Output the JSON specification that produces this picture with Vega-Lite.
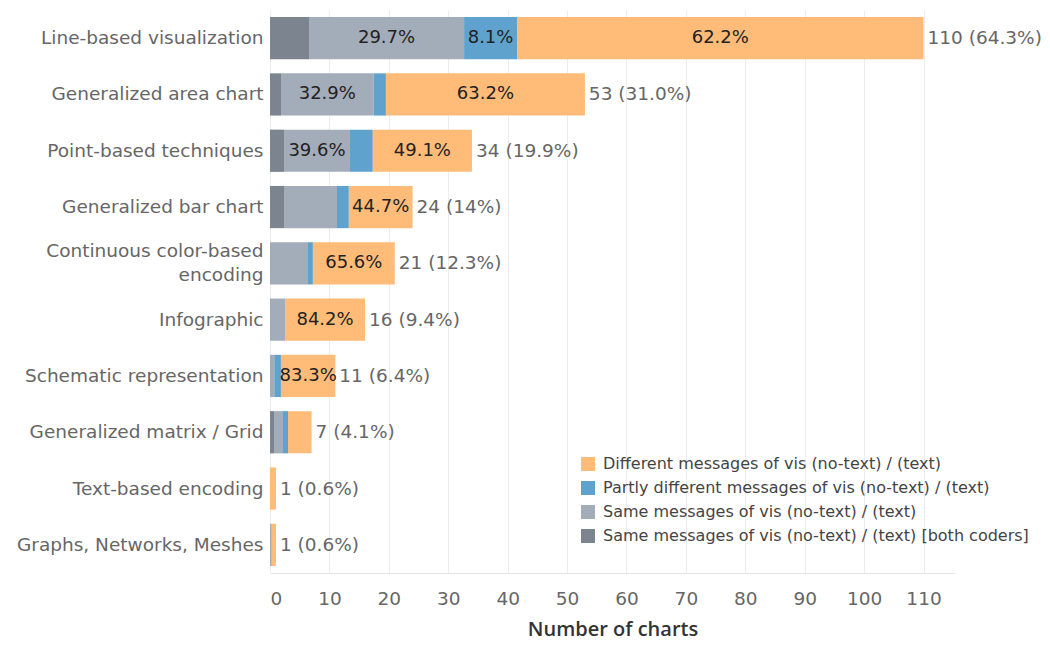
{
  "$schema": "https://vega.github.io/schema/vega-lite/v6.json",
  "autosize": {"type": "none"},
  "width": 685,
  "height": 563,
  "padding": {"left": 270, "top": 10, "right": 95, "bottom": 79},
  "background": "white",
  "config": {
    "font": "DejaVu Sans",
    "view": {"stroke": null},
    "axis": {"labelFont": "DejaVu Sans", "titleFont": "Open Sans"},
    "legend": {"labelFont": "DejaVu Sans"}
  },
  "datasets": {
    "segments": [
      {"category": "Line-based visualization", "type": "Same messages of vis (no-text) / (text) [both coders]", "ord": 1, "value": 6.57, "label": ""},
      {"category": "Line-based visualization", "type": "Same messages of vis (no-text) / (text)", "ord": 2, "value": 26.1, "label": "29.7%"},
      {"category": "Line-based visualization", "type": "Partly different messages of vis (no-text) / (text)", "ord": 3, "value": 8.91, "label": "8.1%"},
      {"category": "Line-based visualization", "type": "Different messages of vis (no-text) / (text)", "ord": 4, "value": 68.42, "label": "62.2%"},
      {"category": "Generalized area chart", "type": "Same messages of vis (no-text) / (text) [both coders]", "ord": 1, "value": 1.85, "label": ""},
      {"category": "Generalized area chart", "type": "Same messages of vis (no-text) / (text)", "ord": 2, "value": 15.59, "label": "32.9%"},
      {"category": "Generalized area chart", "type": "Partly different messages of vis (no-text) / (text)", "ord": 3, "value": 2.07, "label": ""},
      {"category": "Generalized area chart", "type": "Different messages of vis (no-text) / (text)", "ord": 4, "value": 33.5, "label": "63.2%"},
      {"category": "Point-based techniques", "type": "Same messages of vis (no-text) / (text) [both coders]", "ord": 1, "value": 2.36, "label": ""},
      {"category": "Point-based techniques", "type": "Same messages of vis (no-text) / (text)", "ord": 2, "value": 11.1, "label": "39.6%"},
      {"category": "Point-based techniques", "type": "Partly different messages of vis (no-text) / (text)", "ord": 3, "value": 3.84, "label": ""},
      {"category": "Point-based techniques", "type": "Different messages of vis (no-text) / (text)", "ord": 4, "value": 16.69, "label": "49.1%"},
      {"category": "Generalized bar chart", "type": "Same messages of vis (no-text) / (text) [both coders]", "ord": 1, "value": 2.36, "label": ""},
      {"category": "Generalized bar chart", "type": "Same messages of vis (no-text) / (text)", "ord": 2, "value": 8.92, "label": ""},
      {"category": "Generalized bar chart", "type": "Partly different messages of vis (no-text) / (text)", "ord": 3, "value": 1.99, "label": ""},
      {"category": "Generalized bar chart", "type": "Different messages of vis (no-text) / (text)", "ord": 4, "value": 10.73, "label": "44.7%"},
      {"category": "Continuous color-based encoding", "type": "Same messages of vis (no-text) / (text)", "ord": 2, "value": 6.4, "label": ""},
      {"category": "Continuous color-based encoding", "type": "Partly different messages of vis (no-text) / (text)", "ord": 3, "value": 0.82, "label": ""},
      {"category": "Continuous color-based encoding", "type": "Different messages of vis (no-text) / (text)", "ord": 4, "value": 13.78, "label": "65.6%"},
      {"category": "Infographic", "type": "Same messages of vis (no-text) / (text)", "ord": 2, "value": 2.53, "label": ""},
      {"category": "Infographic", "type": "Different messages of vis (no-text) / (text)", "ord": 4, "value": 13.47, "label": "84.2%"},
      {"category": "Schematic representation", "type": "Same messages of vis (no-text) / (text)", "ord": 2, "value": 0.72, "label": ""},
      {"category": "Schematic representation", "type": "Partly different messages of vis (no-text) / (text)", "ord": 3, "value": 1.12, "label": ""},
      {"category": "Schematic representation", "type": "Different messages of vis (no-text) / (text)", "ord": 4, "value": 9.16, "label": "83.3%"},
      {"category": "Generalized matrix / Grid", "type": "Same messages of vis (no-text) / (text) [both coders]", "ord": 1, "value": 0.67, "label": ""},
      {"category": "Generalized matrix / Grid", "type": "Same messages of vis (no-text) / (text)", "ord": 2, "value": 1.52, "label": ""},
      {"category": "Generalized matrix / Grid", "type": "Partly different messages of vis (no-text) / (text)", "ord": 3, "value": 0.84, "label": ""},
      {"category": "Generalized matrix / Grid", "type": "Different messages of vis (no-text) / (text)", "ord": 4, "value": 3.97, "label": ""},
      {"category": "Text-based encoding", "type": "Different messages of vis (no-text) / (text)", "ord": 4, "value": 1, "label": ""},
      {"category": "Graphs, Networks, Meshes", "type": "Same messages of vis (no-text) / (text)", "ord": 2, "value": 0.3, "label": ""},
      {"category": "Graphs, Networks, Meshes", "type": "Different messages of vis (no-text) / (text)", "ord": 4, "value": 0.7, "label": ""}
    ],
    "totals": [
      {"category": "Line-based visualization", "total": 110, "totalLabel": "110 (64.3%)"},
      {"category": "Generalized area chart", "total": 53, "totalLabel": "53 (31.0%)"},
      {"category": "Point-based techniques", "total": 34, "totalLabel": "34 (19.9%)"},
      {"category": "Generalized bar chart", "total": 24, "totalLabel": "24 (14%)"},
      {"category": "Continuous color-based encoding", "total": 21, "totalLabel": "21 (12.3%)"},
      {"category": "Infographic", "total": 16, "totalLabel": "16 (9.4%)"},
      {"category": "Schematic representation", "total": 11, "totalLabel": "11 (6.4%)"},
      {"category": "Generalized matrix / Grid", "total": 7, "totalLabel": "7 (4.1%)"},
      {"category": "Text-based encoding", "total": 1, "totalLabel": "1 (0.6%)"},
      {"category": "Graphs, Networks, Meshes", "total": 1, "totalLabel": "1 (0.6%)"}
    ]
  },
  "encoding": {
    "y": {
      "field": "category",
      "type": "nominal",
      "sort": ["Line-based visualization", "Generalized area chart", "Point-based techniques", "Generalized bar chart", "Continuous color-based encoding", "Infographic", "Schematic representation", "Generalized matrix / Grid", "Text-based encoding", "Graphs, Networks, Meshes"],
      "scale": {"paddingInner": 0.25, "paddingOuter": 0.125},
      "axis": {
        "title": null,
        "domain": false,
        "ticks": false,
        "labelFontSize": 18.5,
        "labelColor": "#666666",
        "labelPadding": 7,
        "labelLimit": 300,
        "labelLineHeight": 24,
        "labelOffset": {"condition": {"test": "datum.value == 'Continuous color-based encoding'", "value": -12}, "value": 0},
        "labelExpr": "datum.label == 'Continuous color-based encoding' ? ['Continuous color-based', 'encoding'] : datum.label"
      }
    }
  },
  "layer": [
    {
      "data": {"name": "segments"},
      "mark": {"type": "bar"},
      "encoding": {
        "x": {
          "field": "value",
          "type": "quantitative",
          "stack": "zero",
          "scale": {"domain": [0, 115.3], "nice": false, "zero": true},
          "axis": {
            "title": "Number of charts",
            "values": [0, 10, 20, 30, 40, 50, 60, 70, 80, 90, 100, 110],
            "grid": true,
            "gridColor": "#ececec",
            "domainColor": "#e6e6e6",
            "ticks": false,
            "labelFontSize": 18.5,
            "labelColor": "#666666",
            "labelPadding": 16,
            "titleFontSize": 20,
            "titleFontWeight": 600,
            "titleColor": "#333333",
            "titlePadding": 12
          }
        },
        "color": {
          "field": "type",
          "type": "nominal",
          "scale": {
            "domain": ["Different messages of vis (no-text) / (text)", "Partly different messages of vis (no-text) / (text)", "Same messages of vis (no-text) / (text)", "Same messages of vis (no-text) / (text) [both coders]"],
            "range": ["#ffbc79", "#5fa2ce", "#a3acb9", "#7b848f"]
          },
          "legend": {
            "title": null,
            "orient": "none",
            "legendX": 310,
            "legendY": 446,
            "symbolType": "square",
            "symbolSize": 196,
            "symbolStrokeWidth": 0,
            "labelFontSize": 16,
            "labelColor": "#444444",
            "labelLimit": 500,
            "rowPadding": 8,
            "labelOffset": 7
          }
        },
        "order": {"field": "ord", "type": "quantitative"}
      }
    },
    {
      "data": {"name": "segments"},
      "mark": {"type": "text", "fontSize": 18, "color": "#222222", "align": "center", "baseline": "middle"},
      "encoding": {
        "x": {"field": "value", "type": "quantitative", "stack": "zero", "bandPosition": 0.5},
        "detail": {"field": "type", "type": "nominal"},
        "order": {"field": "ord", "type": "quantitative"},
        "text": {"field": "label", "type": "nominal"}
      }
    },
    {
      "data": {"name": "totals"},
      "mark": {"type": "text", "fontSize": 18.5, "color": "#666666", "align": "left", "baseline": "middle", "dx": 4},
      "encoding": {
        "x": {"field": "total", "type": "quantitative"},
        "text": {"field": "totalLabel", "type": "nominal"}
      }
    }
  ]
}
